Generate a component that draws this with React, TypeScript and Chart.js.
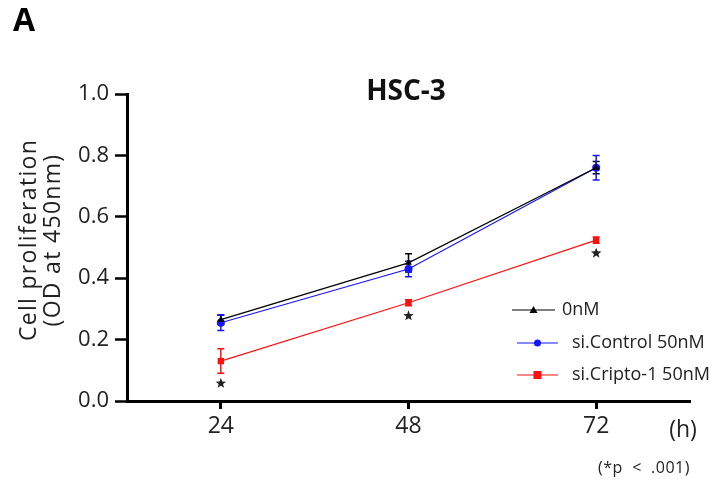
import React, { useEffect, useRef } from "react";
import { Chart, registerables } from "chart.js";

Chart.register(...registerables);

const hours = [24, 48, 72];
const xTicks = [24, 48, 72];
const yTicks = [0, 0.2, 0.4, 0.6, 0.8, 1.0];
const seriesNames = ["0nM", "si.Control 50nM", "si.Cripto-1 50nM"];
const ctrl0 = [0.265, 0.45, 0.76];
const ctrl0Err = [0.015, 0.03, 0.02];
const siControl = [0.255, 0.43, 0.76];
const siControlErr = [0.025, 0.025, 0.04];
const siCripto = [0.13, 0.32, 0.524];
const siCriptoErr = [0.04, 0.01, 0.01];
const significant = [true, true, true];

const FONT = "'Open Sans', 'Noto Sans', sans-serif";
const colors = ["#000000", "#1515ff", "#ff1010"];
const markers = ["triangle", "circle", "rect"];

function drawStar(ctx: CanvasRenderingContext2D, cx: number, cy: number, r: number) {
  ctx.beginPath();
  for (let k = 0; k < 10; k++) {
    const rad = k % 2 === 0 ? r : r * 0.42;
    const a = -Math.PI / 2 + (k * Math.PI) / 5;
    const px = cx + rad * Math.cos(a);
    const py = cy + rad * Math.sin(a);
    if (k === 0) ctx.moveTo(px, py);
    else ctx.lineTo(px, py);
  }
  ctx.closePath();
  ctx.fill();
}

export default function App() {
  const ref = useRef<HTMLCanvasElement | null>(null);
  useEffect(() => {
    document.body.style.margin = "0";
    const errs = [ctrl0Err, siControlErr, siCriptoErr];
    const vals = [ctrl0, siControl, siCripto];
    const errorBars = {
      id: "errorBars",
      beforeDatasetsDraw(chart: any) {
        const { ctx } = chart;
        const xs = chart.scales.x;
        const ys = chart.scales.y;
        ctx.save();
        vals.forEach((arr, di) => {
          ctx.strokeStyle = colors[di];
          ctx.lineWidth = 1.5;
          arr.forEach((v, i) => {
            const x = xs.getPixelForValue(hours[i]);
            const top = ys.getPixelForValue(v + errs[di][i]);
            const bot = ys.getPixelForValue(v - errs[di][i]);
            ctx.beginPath();
            ctx.moveTo(x, top);
            ctx.lineTo(x, bot);
            ctx.moveTo(x - 3.5, top);
            ctx.lineTo(x + 3.5, top);
            ctx.moveTo(x - 3.5, bot);
            ctx.lineTo(x + 3.5, bot);
            ctx.stroke();
          });
        });
        ctx.restore();
      },
    };
    const annotations = {
      id: "annotations",
      afterDraw(chart: any) {
        const { ctx } = chart;
        const xs = chart.scales.x;
        const ys = chart.scales.y;
        ctx.save();
        ctx.fillStyle = "#000";
        ctx.textAlign = "left";
        ctx.textBaseline = "middle";
        ctx.font = `bold 32px ${FONT}`;
        ctx.fillText("A", 13, 22);
        ctx.textAlign = "center";
        ctx.font = `bold 28px ${FONT}`;
        ctx.fillStyle = "#111";
        ctx.fillText("HSC-3", 406, 92);
        // y title
        ctx.fillStyle = "#222";
        ctx.font = `23px ${FONT}`;
        (ctx as any).letterSpacing = "1.3px";
        ctx.save();
        ctx.translate(29, 240);
        ctx.rotate(-Math.PI / 2);
        ctx.fillText("Cell proliferation", 0, 0);
        ctx.restore();
        ctx.save();
        ctx.translate(53, 240);
        ctx.rotate(-Math.PI / 2);
        ctx.fillText("(OD at 450nm)", 0, 0);
        ctx.restore();
        (ctx as any).letterSpacing = "0px";
        ctx.font = `23px ${FONT}`;
        ctx.fillText("(h)", 683, 430);
        ctx.font = `16px ${FONT}`;
        (ctx as any).letterSpacing = "0.5px";
        ctx.fillText("(*p  <  .001)", 644, 468);
        (ctx as any).letterSpacing = "0px";
        // stars
        ctx.fillStyle = "#222";
        siCripto.forEach((v, i) => {
          if (!significant[i]) return;
          const x = xs.getPixelForValue(hours[i]);
          const y = ys.getPixelForValue(v - siCriptoErr[i]);
          drawStar(ctx, x, y + 10, 5.5);
        });
        // legend
        const rows = [310, 343, 375];
        const textX = [562, 572, 572];
        ctx.textAlign = "left";
        ctx.font = `18px ${FONT}`;
        seriesNames.forEach((name, i) => {
          const y = rows[i];
          const x0 = i === 0 ? 512 : 517;
          const x1 = i === 0 ? 555 : 558;
          ctx.strokeStyle = colors[i];
          ctx.lineWidth = 1.2;
          ctx.beginPath();
          ctx.moveTo(x0, y);
          ctx.lineTo(x1, y);
          ctx.stroke();
          ctx.fillStyle = colors[i];
          const mx = (x0 + x1) / 2;
          ctx.beginPath();
          if (i === 0) {
            ctx.moveTo(mx, y - 4);
            ctx.lineTo(mx + 4, y + 3);
            ctx.lineTo(mx - 4, y + 3);
            ctx.closePath();
            ctx.fill();
          } else if (i === 1) {
            ctx.arc(mx, y, 3.5, 0, Math.PI * 2);
            ctx.fill();
          } else {
            ctx.fillRect(mx - 4, y - 4, 8, 8);
          }
          ctx.fillStyle = "#222";
          ctx.fillText(name, textX[i], y);
        });
        ctx.restore();
      },
    };
    const mk = (arr: number[]) => arr.map((v, i) => ({ x: hours[i], y: v }));
    const chart = new Chart(ref.current as HTMLCanvasElement, {
      type: "line",
      data: {
        datasets: [ctrl0, siControl, siCripto].map((arr, i) => ({
          label: seriesNames[i],
          data: mk(arr),
          borderColor: colors[i],
          backgroundColor: colors[i],
          borderWidth: 1.2,
          pointStyle: markers[i] as any,
          pointRadius: i === 2 ? 4.5 : 4,
          pointBorderWidth: 0,
          fill: false,
          tension: 0,
        })),
      },
      options: {
        animation: false,
        responsive: false,
        events: [],
        layout: { padding: { left: 0, right: 28, top: 94, bottom: 0 } },
        plugins: { legend: { display: false }, tooltip: { enabled: false }, title: { display: false } },
        scales: {
          x: {
            type: "linear",
            min: 12,
            max: 84,
            afterBuildTicks: (s: any) => {
              s.ticks = xTicks.map((v) => ({ value: v }));
            },
            afterFit: (s: any) => {
              s.height = 84;
            },
            border: { display: true, color: "#000", width: 3 },
            grid: { drawOnChartArea: false, drawTicks: true, tickLength: 8, tickWidth: 3, tickColor: "#000" },
            ticks: { color: "#222", font: { family: FONT, size: 23 }, padding: 4, maxRotation: 0, autoSkip: false },
          },
          y: {
            type: "linear",
            min: 0,
            max: 1,
            afterBuildTicks: (s: any) => {
              s.ticks = yTicks.map((v) => ({ value: v }));
            },
            afterFit: (s: any) => {
              s.width = 127;
            },
            border: { display: true, color: "#000", width: 3 },
            grid: { drawOnChartArea: false, drawTicks: true, tickLength: 12, tickWidth: 2.5, tickColor: "#000" },
            ticks: {
              color: "#222",
              font: { family: FONT, size: 22 },
              padding: 6,
              callback: (v: any) => Number(v).toFixed(1),
            },
          },
        },
      },
      plugins: [errorBars, annotations],
    });
    return () => chart.destroy();
  }, []);
  return (
    <div style={{ width: 718, height: 485 }}>
      <canvas ref={ref} width={718} height={485} />
    </div>
  );
}
